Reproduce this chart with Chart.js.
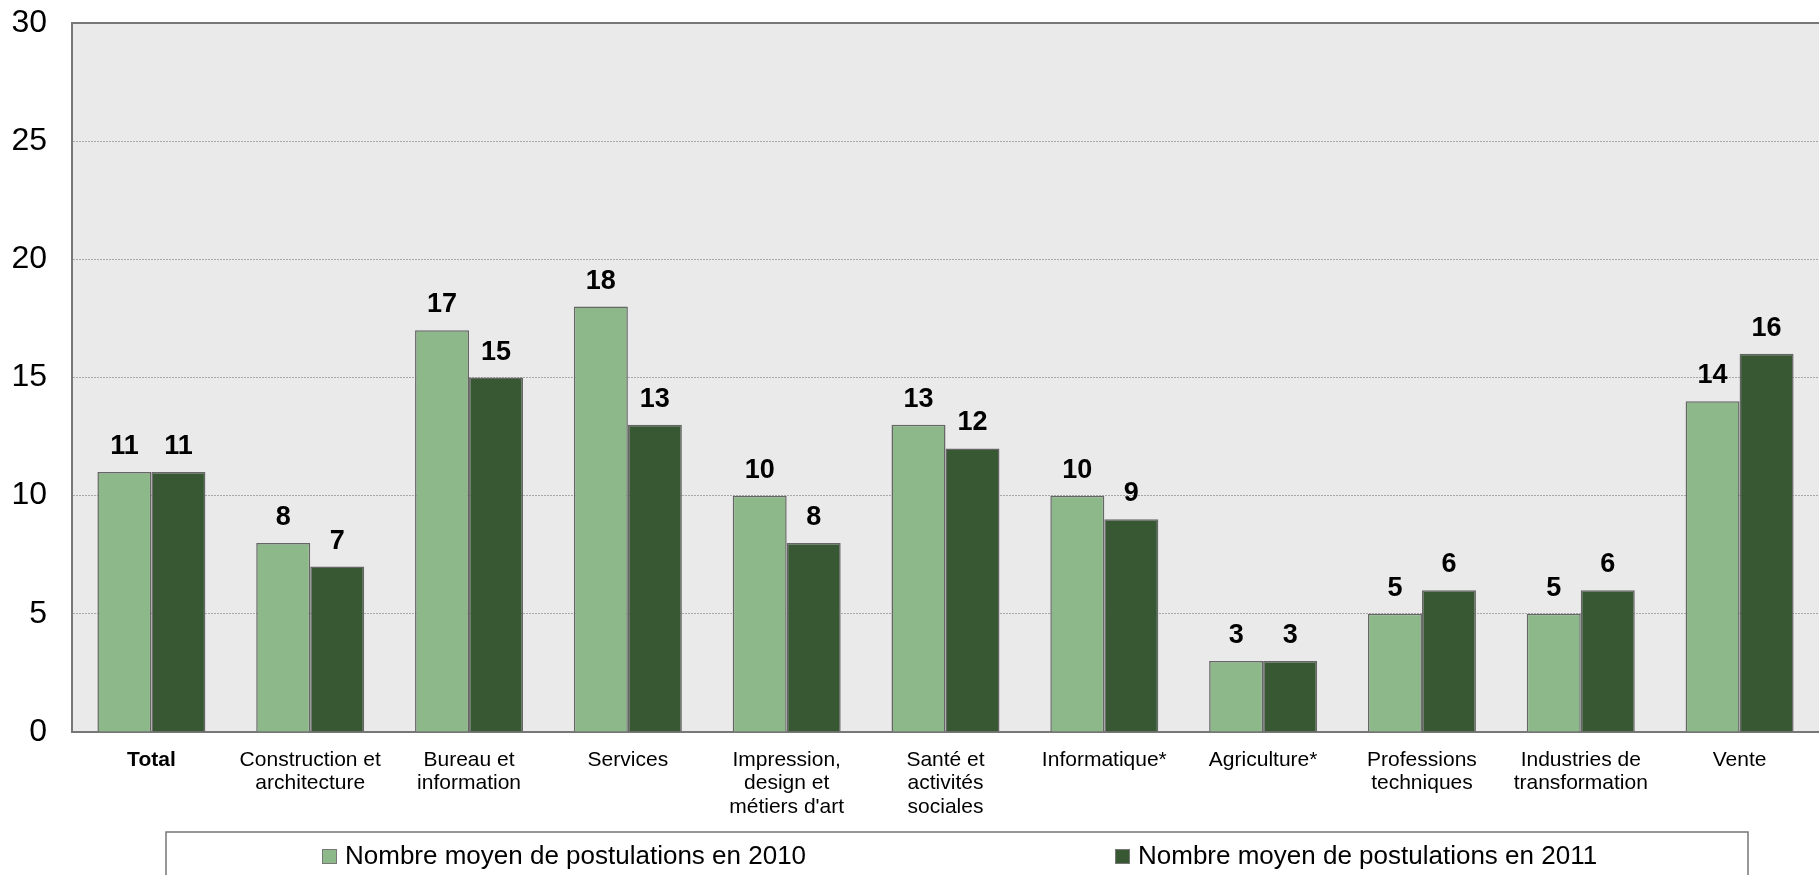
<!DOCTYPE html>
<html>
<head>
<meta charset="utf-8">
<script src="https://cdn.jsdelivr.net/npm/chart.js@4"></script>
<style>
  html, body { margin: 0; padding: 0; background: #fff; }
  #wrap { width: 1819px; height: 875px; position: relative; }
</style>
</head>
<body>
<div id="wrap"><canvas id="chart"></canvas></div>
<script>
// categories (x axis)
const categories = [
  ["Total"],
  ["Construction et", "architecture"],
  ["Bureau et", "information"],
  ["Services"],
  ["Impression,", "design et", "métiers d'art"],
  ["Santé et", "activités", "sociales"],
  ["Informatique*"],
  ["Agriculture*"],
  ["Professions", "techniques"],
  ["Industries de", "transformation"],
  ["Vente"]
];
const values2010 = [11, 8, 17, 18, 10, 13, 10, 3, 5, 5, 14];
const values2011 = [11, 7, 15, 13, 8, 12, 9, 3, 6, 6, 16];
const seriesLabels = ["Nombre moyen de postulations en 2010", "Nombre moyen de postulations en 2011"];
const yTicks = [0, 5, 10, 15, 20, 25, 30];

const FONT = "'Liberation Sans', Arial, sans-serif";
const lightGreen = "#8db88a";
const darkGreen = "#385834";

// plot background + top border
const plotBg = {
  id: "plotBg",
  beforeDraw(chart) {
    const { ctx, chartArea: a } = chart;
    ctx.save();
    ctx.fillStyle = "#eaeaea";
    ctx.fillRect(a.left, a.top, a.right - a.left, a.bottom - a.top);
    ctx.restore();
  },
  afterDraw(chart) {
    const { ctx, chartArea: a } = chart;
    ctx.save();
    ctx.strokeStyle = "#777";
    ctx.lineWidth = 2;
    ctx.beginPath();
    ctx.moveTo(a.left, a.top);
    ctx.lineTo(a.right, a.top);
    ctx.stroke();
    ctx.restore();
  }
};

// value labels over bars
const valueLabels = {
  id: "valueLabels",
  afterDatasetsDraw(chart) {
    const ctx = chart.ctx;
    ctx.save();
    ctx.font = "bold 27px " + FONT;
    ctx.fillStyle = "#000";
    ctx.textAlign = "center";
    ctx.textBaseline = "alphabetic";
    chart.data.datasets.forEach((ds, i) => {
      chart.getDatasetMeta(i).data.forEach((bar, j) => {
        ctx.fillText(String(ds.data[j]), bar.x, bar.y - 18);
      });
    });
    ctx.restore();
  }
};

// boxed legend at the bottom
const boxLegend = {
  id: "boxLegend",
  afterDraw(chart) {
    const ctx = chart.ctx;
    ctx.save();
    ctx.strokeStyle = "#777";
    ctx.lineWidth = 1.5;
    ctx.strokeRect(166, 832, 1748 - 166, 60);
    const xs = [322, 1115];
    ctx.font = "26px " + FONT;
    ctx.textBaseline = "middle";
    ctx.textAlign = "left";
    chart.data.datasets.forEach((ds, i) => {
      ctx.fillStyle = ds.backgroundColor;
      ctx.fillRect(xs[i], 849, 14, 14);
      ctx.strokeStyle = "#777";
      ctx.lineWidth = 1;
      ctx.strokeRect(xs[i] + 0.5, 849.5, 14, 14);
      ctx.fillStyle = "#000";
      ctx.fillText(ds.label, xs[i] + 23, 857);
    });
    ctx.restore();
  }
};

new Chart(document.getElementById("chart"), {
  type: "bar",
  data: {
    labels: categories,
    datasets: [
      { label: seriesLabels[0], data: values2010, backgroundColor: lightGreen, borderColor: "#666", borderWidth: 1.5 },
      { label: seriesLabels[1], data: values2011, backgroundColor: darkGreen, borderColor: "#666", borderWidth: 1.5 }
    ]
  },
  options: {
    responsive: true,
    maintainAspectRatio: false,
    animation: false,
    datasets: { bar: { categoryPercentage: 0.68, barPercentage: 1.0 } },
    layout: { padding: { top: 23, right: 0, left: 0, bottom: 0 } },
    plugins: { legend: { display: false }, tooltip: { enabled: false } },
    scales: {
      x: {
        grid: { display: false, drawTicks: false },
        border: { color: "#777", width: 2 },
        ticks: {
          color: "#000",
          padding: 17,
          maxRotation: 0,
          autoSkip: false,
          font: (c) => ({ family: FONT, size: 21, lineHeight: 1.1, weight: c.index === 0 ? "bold" : "normal" })
        },
        afterFit(scale) { scale.height = 875 - 732; }
      },
      y: {
        min: 0,
        max: 30,
        afterBuildTicks(scale) { scale.ticks = yTicks.map(v => ({ value: v })); },
        grid: { color: "#a8a8a8", lineWidth: 1, drawTicks: false },
        border: { color: "#777", width: 2, dash: [2, 1] },
        ticks: { color: "#000", padding: 25, font: { family: FONT, size: 32 } },
        afterFit(scale) {
          scale.width = 72;
          scale.paddingTop = 0;
          scale.paddingBottom = 0;
        }
      }
    }
  },
  plugins: [plotBg, valueLabels, boxLegend]
});
</script>
</body>
</html>
